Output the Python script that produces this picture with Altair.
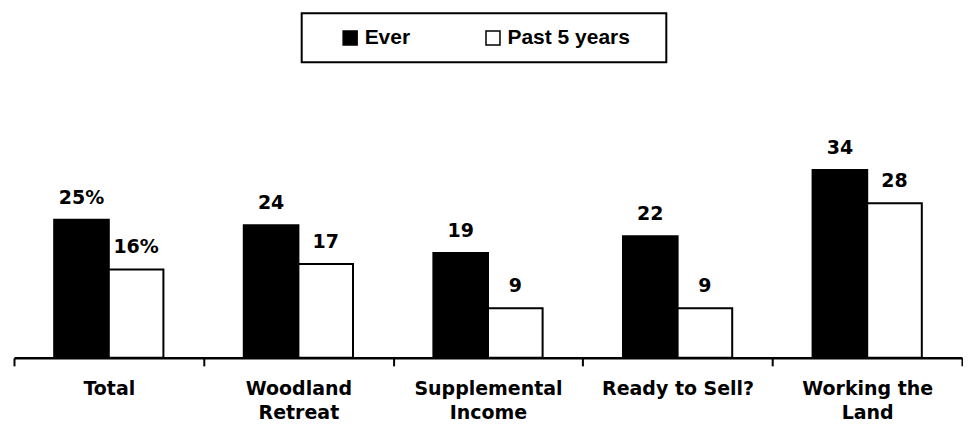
import altair as alt
import pandas as pd

categories = ["Total", "Woodland|Retreat", "Supplemental|Income", "Ready to Sell?", "Working the|Land"]
series = ["Ever", "Past 5 years"]
ever = [25, 24, 19, 22, 34]
past5 = [16, 17, 9, 9, 28]

rows = []
for i, c in enumerate(categories):
    for s, vals in zip(series, [ever, past5]):
        v = vals[i]
        rows.append({"category": c, "series": s, "value": v,
                     "label": f"{v}%" if i == 0 else str(v)})
df = pd.DataFrame(rows)

NB = "\u00a0"
ZWJ = "\u200d"
title_pad = ZWJ + NB * 5 + ZWJ
tail_pad = NB * 3 + "\u2009" + ZWJ

x_enc = alt.X(
    "category:N", sort=categories,
    scale=alt.Scale(paddingInner=0, paddingOuter=0),
    axis=alt.Axis(
        title=None, labelExpr="split(datum.label, '|')", tickBand="extent",
        domainColor="black", domainWidth=2.5, tickColor="black", tickWidth=2,
        tickSize=8, labelFont="DejaVu Sans", labelFontWeight="bold",
        labelFontSize=19, labelColor="black", labelPadding=14,
        labelLineHeight=24, labelAngle=0, labelLimit=300,
    ),
)
xo_enc = alt.XOffset("series:N", sort=series,
                     scale=alt.Scale(paddingInner=0, paddingOuter=0.736))
y_enc = alt.Y("value:Q", scale=alt.Scale(domain=[0, 63.3], nice=False), axis=None)

bars = alt.Chart(df).mark_bar(stroke="black", strokeWidth=2).encode(
    x=x_enc, xOffset=xo_enc, y=y_enc,
    fill=alt.Fill(
        "series:N", sort=series,
        scale=alt.Scale(domain=series, range=["black", "white"]),
        legend=alt.Legend(
            orient="none", legendX=288, legendY=5, direction="horizontal",
            title=title_pad, titleOrient="left", titlePadding=0,
            titleFont="Liberation Sans", titleFontSize=17,
            padding=14, strokeColor="black",
            symbolType="square", symbolSize=196, symbolStrokeColor="black",
            symbolStrokeWidth=1.5, symbolOpacity=1,
            labelFont="Liberation Sans", labelFontWeight="bold",
            labelFontSize=21, labelColor="black", labelOffset=4,
            columnPadding=72,
            labelExpr="datum.label == 'Past 5 years' ? datum.label + '" + tail_pad + "' : datum.label",
        ),
    ),
)

text = alt.Chart(df).mark_text(
    font="DejaVu Sans", fontWeight="bold", fontSize=19, baseline="alphabetic",
    dy=-16, color="black",
).encode(x=x_enc, xOffset=xo_enc, y=y_enc, text="label:N")

chart = alt.layer(bars, text).properties(
    width=949, height=350,
    padding={"left": 5, "top": 0, "right": 0, "bottom": 0},
).configure_view(stroke=None).configure_legend(strokeWidth=2)

chart.save("out.html", embed_options={"renderer": "svg", "actions": False})
